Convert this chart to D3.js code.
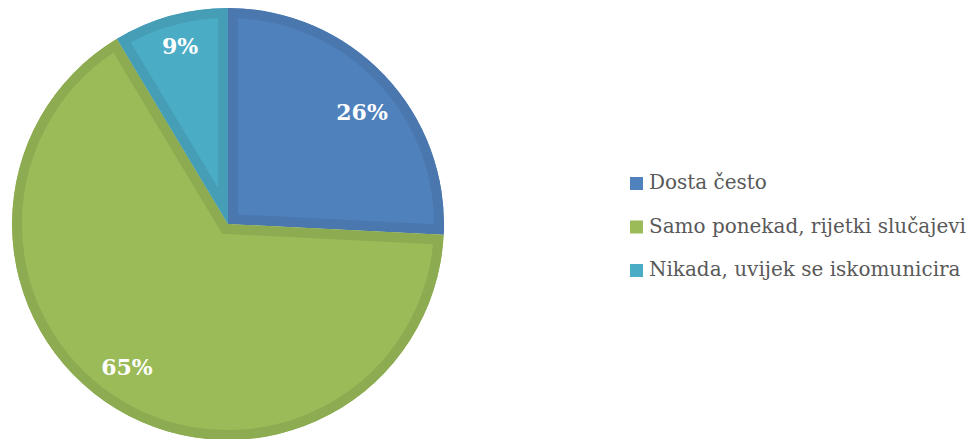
<!DOCTYPE html>
<html>
<head>
<meta charset="utf-8">
<script src="https://cdn.jsdelivr.net/npm/d3@7/dist/d3.min.js"></script>
<style>
  html, body { margin: 0; padding: 0; background: #ffffff; }
  svg { display: block; }
</style>
</head>
<body>
<svg id="chart" width="976" height="439"></svg>
<script>
// Data
const categories = ["Dosta često", "Samo ponekad, rijetki slučajevi", "Nikada, uvijek se iskomunicira"];
const values = [25.8, 65.6, 8.6];
const labels = ["26%", "65%", "9%"];
const fillColors = ["#4F81BD", "#9BBB59", "#4BACC6"];
const borderColors = ["#4A77AE", "#8DAB51", "#459EB6"];

const svg = d3.select("#chart");
const cx = 228, cy = 224, r = 216;

const pie = d3.pie().sort(null).value(d => d)(values);
const arc = d3.arc().innerRadius(0).outerRadius(r);
const labelArc = d3.arc().innerRadius(176).outerRadius(176);
// small "best fit" nudges of the data labels, as the original placement does
const labelNudge = [[6.5, 9.5], [-10.5, -8], [-1, -8.5]];

const defs = svg.append("defs");
const g = svg.append("g").attr("transform", `translate(${cx},${cy})`);

pie.forEach((p, i) => {
  defs.append("clipPath").attr("id", "clip" + i)
    .append("path").attr("d", arc(p));
  g.append("path")
    .attr("d", arc(p))
    .attr("fill", fillColors[i])
    .attr("stroke", borderColors[i])
    .attr("stroke-width", 20)
    .attr("stroke-linejoin", "miter")
    .attr("stroke-miterlimit", 10)
    .attr("clip-path", `url(#clip${i})`);
});

pie.forEach((p, i) => {
  const [x, y] = labelArc.centroid(p);
  g.append("text")
    .attr("x", x + labelNudge[i][0]).attr("y", y + labelNudge[i][1])
    .attr("text-anchor", "middle")
    .attr("dominant-baseline", "central")
    .attr("font-family", "'DejaVu Serif', serif")
    .attr("font-weight", "bold")
    .attr("font-size", 22)
    .attr("fill", "#ffffff")
    .text(labels[i]);
});

// Legend
const legend = svg.append("g").attr("transform", "translate(630,0)");
const rowY = d3.scalePoint().domain(categories).range([189, 276]);
categories.forEach((c, i) => {
  const y = rowY(c);
  legend.append("rect")
    .attr("x", 0).attr("y", y - 12)
    .attr("width", 13).attr("height", 13)
    .attr("fill", fillColors[i]);
  legend.append("text")
    .attr("class", "leg")
    .attr("x", 19).attr("y", y)
    .attr("font-family", "'DejaVu Serif', serif")
    .attr("font-size", 20)
    .attr("fill", "#595959")
    .text(c);
});
// fit font size so the longest entry matches the reference width (~317px)
const longest = legend.selectAll("text.leg").nodes()[1];
const w = longest.getComputedTextLength();
const fs = 20 * 317 / w;
legend.selectAll("text.leg").attr("font-size", fs);
</script>
</body>
</html>
